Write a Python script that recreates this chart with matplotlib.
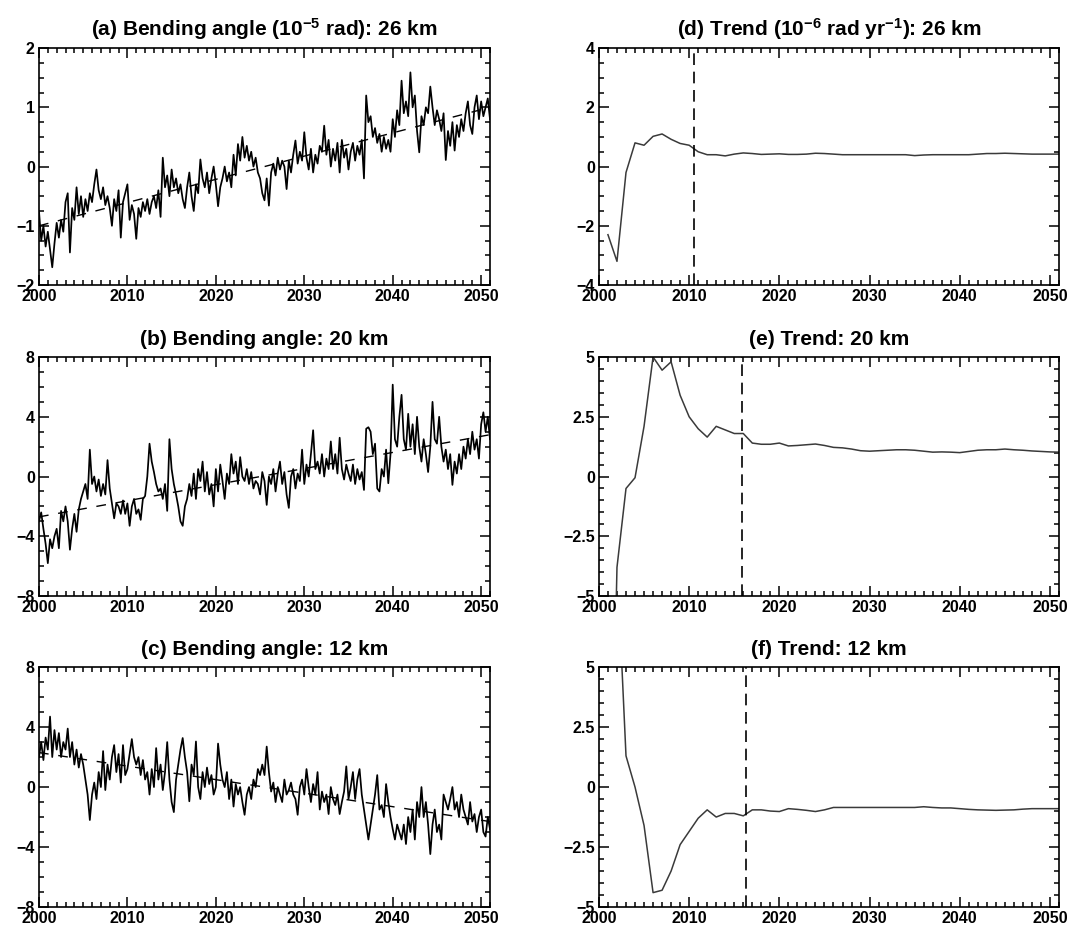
import matplotlib
matplotlib.use('Agg')
import matplotlib.pyplot as plt
from matplotlib.ticker import MultipleLocator, FuncFormatter
import numpy as np

# -------------------------------
# data
# -------------------------------
START_YEAR = 2000.0
STEP = 0.25  # quarterly samples

bend_26km = [
    -0.75, -1.25, -1.0, -1.35,  -1.1, -1.4, -1.7, -1.3,  -0.95, -1.2, -0.9, -1.1,
    -0.6, -0.45, -1.45, -0.7,  -0.9, -0.35, -0.8, -0.5,  -0.85, -0.55, -0.75, -0.45,
    -0.6, -0.3, -0.05, -0.4,  -0.55, -0.35, -0.65, -0.5,  -0.7, -1.0, -0.55, -0.75,
    -0.4, -1.2, -0.6, -0.45,  -0.3, -0.9, -0.65, -0.8,  -1.22, -0.7, -0.85, -0.6,
    -0.75, -0.55, -0.8, -0.6,  -0.5, -0.7, -0.4, -0.85,  0.15, -0.35, -0.15, -0.5,
    -0.05, -0.35, -0.2, -0.45,  -0.3, -0.55, -0.7, -0.35,  -0.1, -0.5, -0.75, -0.3,
    -0.45, 0.12, -0.2, -0.35,  -0.1, -0.45, -0.2, 0.0,  -0.3, -0.67, -0.35, -0.2,
    0.0, -0.25, -0.1, -0.35,  0.2, -0.15, 0.38, 0.1,  0.5, 0.15, 0.35, 0.1,
    0.25, 0.0, 0.15, -0.1,  -0.2, -0.45, -0.57, -0.2,  -0.66, -0.1, 0.05, -0.15,
    0.15, -0.05, 0.1, 0.0,  -0.38, 0.1, -0.1, 0.2,  0.44, 0.05, 0.25, 0.1,
    0.58, 0.15, -0.05, 0.3,  -0.1, 0.2, 0.05, 0.35,  0.25, 0.69, 0.2, 0.45,
    0.0, 0.3, 0.1, 0.4,  -0.1, 0.45, 0.15, 0.3,  -0.05, 0.25, 0.4, 0.1,
    0.35, 0.2, 0.45, -0.2,  1.2, 0.75, 0.85, 0.5,  0.65, 0.4, 0.55, 0.25,
    0.5, 0.3, 0.45, 0.25,  0.8, 0.5, 0.95, 0.7,  1.45, 0.9, 1.1, 0.85,
    1.59, 1.0, 1.2, 0.6,  0.24, 0.85, 0.7, 1.0,  0.9, 1.35, 1.0, 0.7,
    0.95, 0.8, 0.6, 0.9,  0.11, 0.6, 0.35, 0.75,  0.27, 0.7, 0.5, 0.8,
    0.6, 0.9, 1.1, 0.7,  0.55, 1.0, 1.2, 0.8,  1.1, 0.85, 1.0, 1.15,
    0.8,
]

bend_20km = [
    -3.0, -2.4, -3.5, -4.5,  -5.8, -4.2, -4.8, -4.0,  -3.5, -4.8, -2.3, -3.0,
    -2.0, -3.0, -4.9, -3.5,  -2.5, -3.7, -2.2, -1.5,  -1.0, -0.5, -1.5, 1.8,
    -0.5, 0.0, -1.0, -0.2,  -1.3, -0.5, -1.2, 1.1,  -0.8, -1.8, -2.8, -1.8,
    -2.0, -2.5, -1.6, -2.5,  -1.8, -3.3, -2.0, -1.5,  -2.5, -2.2, -2.9, -1.5,
    -1.3, 0.0, 2.2, 1.0,  0.3, -0.5, -1.0, -0.8,  -1.5, -0.5, -2.3, 2.5,
    0.5, -0.5, -1.2, -2.0,  -3.0, -3.3, -2.0, -1.5,  -0.5, -1.3, 0.2, -1.5,
    0.5, -0.3, 1.0, -1.0,  0.3, -1.2, -0.5, -2.0,  0.5, -1.0, 0.8, -0.3,
    -1.5, 0.2, -0.5, 1.5,  0.2, 1.0, -0.5, 1.3,  0.0, -0.3, 0.5, -0.5,
    0.3, -0.8, -0.3, -0.5,  -1.2, 0.3, -0.3, -1.9,  0.0, -0.5, 0.5, -1.0,
    0.2, 1.0, -0.5, 0.3,  -1.2, -2.1, 0.0, 0.5,  -0.8, 0.2, -0.3, 1.8,
    -0.5, 0.8, 0.0, 1.5,  3.1, 0.5, 1.0, 0.2,  1.5, 0.0, 1.2, 0.5,
    2.35, 0.5, 1.5, 0.2,  2.6, 0.5, -0.2, 0.8,  0.2, -0.3, 0.8, -0.5,
    0.5, -0.2, 0.3, -0.9,  3.2, 3.3, 3.0, 1.5,  2.2, -0.8, -1.0, 0.5,
    0.0, 1.8, -0.45, 1.5,  6.15, 2.5, 2.0, 4.0,  5.47, 2.5, 1.8, 4.2,
    2.0, 3.5, 1.5, 4.0,  2.0, 1.0, 2.5, 1.5,  0.3, 2.0, 5.0, 2.5,
    2.2, 4.0, 2.0, 1.0,  1.8, 0.5, 1.5, -0.56,  1.0, 0.2, 1.5, 0.5,
    2.0, 1.2, 2.5, 1.5,  3.0, 1.8, 2.5, 1.2,  3.5, 4.3, 3.0, 4.0,
    2.5,
]

bend_12km = [
    2.0, 3.0, 1.8, 3.3,  2.5, 4.7, 2.0, 3.8,  2.5, 3.6, 2.0, 3.0,
    2.5, 3.9, 2.0, 3.0,  1.5, 2.5, 1.3, 2.2,  1.5, 0.5, -0.5, -2.2,
    -0.5, 0.3, -0.8, 1.0,  0.0, 2.4, -0.2, 1.5,  0.5, 2.0, 2.8, 1.0,
    2.2, 0.3, 2.8, 0.8,  1.2, 2.2, 3.2, 2.0,  1.5, 2.0, 0.8, 1.8,
    0.5, 1.0, -0.5, 1.2,  0.0, 2.6, 0.5, 1.5,  -0.2, 1.0, 3.0, 0.5,
    -1.0, -1.67, 0.5, 1.5,  2.5, 3.27, 2.0, 1.0,  -0.95, 1.5, 0.8, 3.04,
    0.0, -0.8, 1.0, 0.0,  1.3, 0.2, 0.8, -0.5,  0.0, 2.9, 1.5, 0.5,
    0.0, 1.0, -0.8, 0.5,  -1.3, 0.2, -0.5, 0.0,  -1.0, -1.85, -0.5, 0.0,
    -0.8, 0.5, 0.0, 1.2,  0.8, 1.5, 0.8, 2.7,  1.0, -0.3, 0.3, -1.0,
    0.0, -0.5, -1.0, 0.5,  -0.5, -0.2, 0.3, -0.5,  -0.8, -1.85, 0.0, 0.5,
    -0.5, 1.2, 0.0, -1.0,  0.2, -0.5, 1.0, -1.5,  -0.3, -1.0, -0.5, -1.8,
    0.0, -0.8, -1.2, -0.5,  -1.8, -1.0, -0.3, 1.38,  -0.8, 0.0, 1.0, -0.8,
    0.5, 1.2, -0.5, -1.5,  -2.5, -3.5, -2.5, -1.5,  -0.5, 0.8, -1.5, -1.2,
    -2.0, 0.2, -1.0, -2.0,  -2.8, -3.5, -2.5, -3.0,  -3.5, -2.5, -3.8, -2.0,
    -3.0, -1.5, -3.5, -1.0,  -2.0, 0.0, -2.0, -1.0,  -2.5, -4.47, -2.5, -1.5,
    -3.0, -2.5, -3.5, -0.5,  -1.0, -1.5, -0.8, 0.0,  -1.5, -1.0, -2.0, -0.5,
    -1.5, -2.0, -2.5, -1.0,  -2.3, -1.8, -3.0, -2.0,  -1.5, -3.0, -3.3, -2.0,
    -2.8,
]

# linear fits (end points of the dashed lines)
fit_years = [2000, 2051]
fit_26km = [-1.0, 1.0]
fit_20km = [-2.7, 2.8]
fit_12km = [2.3, -2.3]

# cumulative trends, one per year
trend_26km_years = list(range(2001, 2052))
trend_26km = [
    -2.3, -3.2, -0.2, 0.8, 0.72, 1.02, 1.1, 0.92, 0.78, 0.72,
    0.5, 0.4, 0.4, 0.36, 0.42, 0.46, 0.44, 0.41, 0.42, 0.43,
    0.41, 0.41, 0.42, 0.45, 0.44, 0.42, 0.4, 0.4, 0.4, 0.4,
    0.4, 0.4, 0.4, 0.4, 0.37, 0.39, 0.4, 0.4, 0.4, 0.4,
    0.4, 0.42, 0.44, 0.44, 0.45, 0.44, 0.43, 0.42, 0.42, 0.42, 0.42,
]

trend_20km_years = list(range(2001, 2052))
trend_20km = [
    -21.0, -3.8, -0.5, -0.05, 2.1, 5.0, 4.45, 4.8, 3.4, 2.5,
    2.0, 1.65, 2.1, 1.95, 1.8, 1.8, 1.4, 1.35, 1.35, 1.4,
    1.28, 1.3, 1.33, 1.36, 1.3, 1.22, 1.2, 1.15, 1.08, 1.06,
    1.08, 1.1, 1.12, 1.12, 1.1, 1.06, 1.02, 1.03, 1.02, 1.0,
    1.05, 1.1, 1.12, 1.12, 1.15, 1.12, 1.1, 1.07, 1.05, 1.03, 1.02,
]

trend_12km_years = list(range(2002, 2052))
trend_12km = [
    9.5, 1.3, 0.0, -1.6, -4.4, -4.3, -3.5, -2.4, -1.85,
    -1.3, -0.95, -1.25, -1.1, -1.1, -1.2, -0.95, -0.95, -1.0, -1.02,
    -0.9, -0.93, -0.97, -1.02, -0.95, -0.85, -0.85, -0.85, -0.85, -0.85,
    -0.85, -0.85, -0.85, -0.85, -0.85, -0.82, -0.85, -0.87, -0.87, -0.9,
    -0.93, -0.95, -0.96, -0.97, -0.96, -0.95, -0.92, -0.9, -0.9, -0.9, -0.9,
]

# year after which the trend is detectable
detect_year = [2010.5, 2015.9, 2016.3]

# -------------------------------
# style
# -------------------------------
plt.rcParams.update({
    "font.family": ["Liberation Sans", "DejaVu Sans"],
    "font.weight": "bold",
    "mathtext.fontset": "custom",
    "mathtext.rm": "Liberation Sans:bold",
    "mathtext.it": "Liberation Sans:bold",
    "mathtext.bf": "Liberation Sans:bold",
    "mathtext.default": "bf",
    "axes.linewidth": 1.2,
})

title_settings = {"fontsize": 15, "fontweight": "bold", "pad": 9}
tick_font = 11.5


def minus_fmt(v, pos):
    s = "%g" % v
    return s.replace("-", "\u2212")


def style_axes(ax, ylim, ymajor, yminor):
    ax.set_xlim(2000, 2051)
    ax.set_ylim(*ylim)
    ax.xaxis.set_major_locator(MultipleLocator(10))
    ax.xaxis.set_minor_locator(MultipleLocator(1))
    ax.yaxis.set_major_locator(MultipleLocator(ymajor))
    ax.yaxis.set_minor_locator(MultipleLocator(yminor))
    ax.yaxis.set_major_formatter(FuncFormatter(minus_fmt))
    ax.tick_params(which="both", direction="in", top=True, right=True, width=1.1,
                   labelsize=tick_font, pad=3)
    ax.tick_params(which="major", length=7)
    ax.tick_params(which="minor", length=3.5)
    for lab in ax.get_xticklabels() + ax.get_yticklabels():
        lab.set_fontweight("bold")


fig = plt.figure(figsize=(10.68, 9.3), dpi=100)

rows = [(0.6935, 0.2548), (0.3591, 0.2570), (0.0247, 0.2580)]
left_x, left_w = 0.0365, 0.4223
right_x, right_w = 0.5608, 0.4308

left_panels = [
    (bend_26km, fit_26km, "(a) Bending angle (10$^{-5}$ rad): 26 km", (-2, 2), 1, 0.25),
    (bend_20km, fit_20km, "(b) Bending angle: 20 km", (-8, 8), 4, 1),
    (bend_12km, fit_12km, "(c) Bending angle: 12 km", (-8, 8), 4, 1),
]
right_panels = [
    (trend_26km_years, trend_26km, "(d) Trend (10$^{-6}$ rad yr$^{-1}$): 26 km", (-4, 4), 2, 0.5),
    (trend_20km_years, trend_20km, "(e) Trend: 20 km", (-5, 5), 2.5, 0.5),
    (trend_12km_years, trend_12km, "(f) Trend: 12 km", (-5, 5), 2.5, 0.5),
]

for i, (vals, fit, title, ylim, ymaj, ymin) in enumerate(left_panels):
    bottom, height = rows[i]
    ax = fig.add_axes([left_x, bottom, left_w, height])
    years = START_YEAR + STEP * np.arange(len(vals))
    ax.plot(fit_years, fit, color="black", lw=1.0, dashes=(7, 7))
    ax.plot(years, vals, color="black", lw=1.25)
    style_axes(ax, ylim, ymaj, ymin)
    ax.set_title(title, **title_settings)

for i, (yrs, vals, title, ylim, ymaj, ymin) in enumerate(right_panels):
    bottom, height = rows[i]
    ax = fig.add_axes([right_x, bottom, right_w, height])
    ax.plot(yrs, vals, color="#3a3a3a", lw=1.1)
    ax.axvline(detect_year[i], color="black", lw=1.2, dashes=(7, 4))
    style_axes(ax, ylim, ymaj, ymin)
    ax.set_title(title, **title_settings)

fig.savefig("out.png", dpi=100)
plt.close(fig)
